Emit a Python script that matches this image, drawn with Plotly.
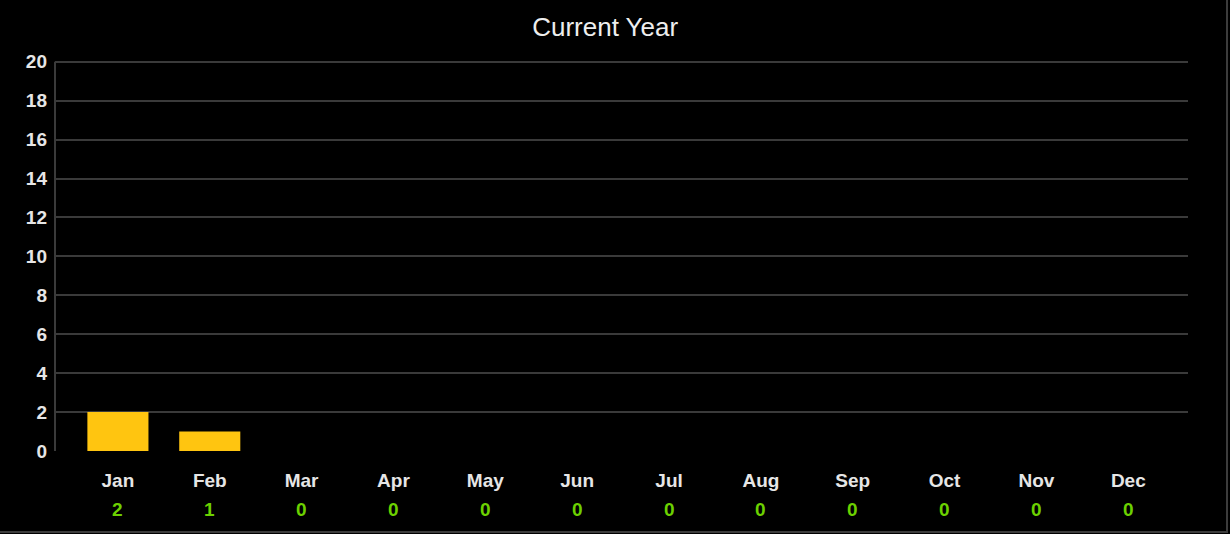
import plotly.graph_objects as go

months = ["Jan", "Feb", "Mar", "Apr", "May", "Jun", "Jul", "Aug", "Sep", "Oct", "Nov", "Dec"]
counts = [2, 1, 0, 0, 0, 0, 0, 0, 0, 0, 0, 0]
y_ticks = [0, 2, 4, 6, 8, 10, 12, 14, 16, 18, 20]
y_max = 20

W, H = 1230, 534
ml, mr, mt, mb = 55, 42, 54, 83
plot_w = W - ml - mr
plot_h = H - mt - mb
FONT = "Liberation Sans, Arial, sans-serif"
GRID = "#3a3a3a"

fig = go.Figure(
    go.Bar(
        x=list(range(len(months))),
        y=counts,
        width=0.665,
        marker=dict(color="#FFC510", line=dict(width=0)),
        hoverinfo="skip",
    )
)

# Per-month totals shown in green under the month names
for i, v in enumerate(counts):
    fig.add_annotation(
        x=i, y=0, xref="x", yref="y", yshift=-58,
        text=f"<b>{v}</b>", showarrow=False,
        font=dict(family=FONT, size=19, color="#6CD000"),
    )

# Vertical axis line from 0 up to the top tick
fig.add_shape(type="line", xref="paper", yref="y",
              x0=0, x1=0, y0=-0.05, y1=y_max,
              line=dict(color=GRID, width=2))

# Thin frame on the right and bottom edges of the panel
fx = lambda px: (px - ml) / plot_w
fy = lambda py: (H - mb - py) / plot_h
fig.add_shape(type="line", xref="paper", yref="paper",
              x0=fx(1227), x1=fx(1227), y0=fy(0), y1=fy(532),
              line=dict(color="#3c3c3c", width=2))
fig.add_shape(type="line", xref="paper", yref="paper",
              x0=fx(0), x1=fx(1228), y0=fy(532), y1=fy(532),
              line=dict(color="#3c3c3c", width=2))

fig.update_layout(
    width=W, height=H,
    margin=dict(l=ml, r=mr, t=mt, b=mb, pad=0),
    paper_bgcolor="#000000",
    plot_bgcolor="#000000",
    showlegend=False,
    title=dict(
        text="Current Year", x=0.492, xanchor="center", y=1 - 27 / H, yanchor="middle",
        font=dict(family=FONT, size=26, color="#EEEEEE"),
    ),
)

fig.update_xaxes(
    range=[-0.685, 11.65],
    tickvals=list(range(len(months))),
    ticktext=[f"<b>{m}</b>" for m in months],
    tickfont=dict(family=FONT, size=19, color="#E6E6E6"),
    showgrid=False, zeroline=False, showline=False, ticks="",
    ticklabelstandoff=16,
)

fig.update_yaxes(
    range=[0, y_max * 1.02],
    tickvals=y_ticks,
    ticktext=[f"<b>{t}</b>" for t in y_ticks],
    tickfont=dict(family=FONT, size=19, color="#E6E6E6"),
    showgrid=True, gridcolor=GRID, gridwidth=2,
    zeroline=False, showline=False,
    ticks="", ticklabelstandoff=7,
)

fig.write_html("out.html")
